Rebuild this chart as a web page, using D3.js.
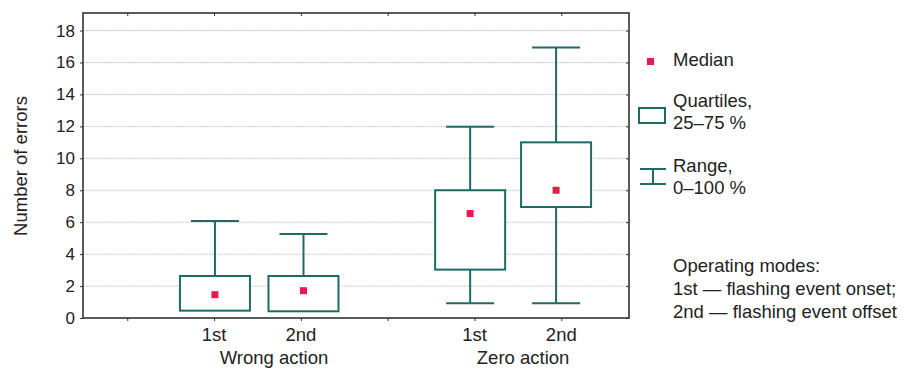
<!DOCTYPE html>
<html>
<head>
<meta charset="utf-8">
<script src="https://cdn.jsdelivr.net/npm/d3@7"></script>
<style>
  body { margin: 0; background: #fff; }
  text { font-family: "Liberation Sans", Arial, Helvetica, sans-serif; fill: #222; }
</style>
</head>
<body>
<div id="chart"></div>
<script>
// box plot values
const slots = ["1st", "2nd", "1st", "2nd"];
const slotPos = [2, 3, 5, 6];
const boxPos = [2.01, 3.03, 4.95, 5.94];
const groups = ["Wrong action", "Zero action"];
const groupPos = [2.69, 5.56];
const mins = [0.46, 0.42, 0.92, 0.92];
const q1s = [0.46, 0.42, 3.03, 6.95];
const medians = [1.46, 1.71, 6.54, 8.0];
const q3s = [2.63, 2.63, 8.0, 11.0];
const maxs = [6.08, 5.26, 11.97, 16.94];
const yTicks = [0, 2, 4, 6, 8, 10, 12, 14, 16, 18];
const xTicks = [1, 2, 3, 4, 5, 6];
const notes = ["Operating modes:", "1st \u2014 flashing event onset;", "2nd \u2014 flashing event offset"];

const teal = "#1d6a66", red = "#e8194b", frame = "#333";
const W = 904, H = 369;
const pLeft = 83, pRight = 629, pTop = 13, pBottom = 318;
const fs = "18.5px";

const svg = d3.select("#chart").append("svg")
  .attr("width", W).attr("height", H);

const x = d3.scaleLinear().domain([0.49, 6.78]).range([pLeft, pRight]);
const y = d3.scaleLinear().domain([0, 19.1]).range([pBottom, pTop]);

// grid
svg.append("g").selectAll("line")
  .data(yTicks.filter(d => d > 0))
  .enter().append("line")
  .attr("x1", pLeft).attr("x2", pRight)
  .attr("y1", d => y(d)).attr("y2", d => y(d))
  .attr("stroke", "#c8c8c8").attr("stroke-width", 1)
  .attr("stroke-dasharray", "2,1");

// axes
const yAxis = svg.append("g").attr("transform", `translate(${pLeft},0)`)
  .call(d3.axisLeft(y).tickValues(yTicks).tickSize(3).tickPadding(5));
yAxis.select(".domain").remove();
yAxis.selectAll("text").style("font-size", "17px").attr("fill", "#222");
yAxis.selectAll("line").attr("stroke", frame);

svg.append("g").attr("transform", `translate(${pRight},0)`)
  .call(d3.axisLeft(y).tickValues(yTicks).tickSize(3).tickFormat(""))
  .call(g => g.select(".domain").remove())
  .selectAll("line").attr("stroke", frame);

const xAxis = svg.append("g").attr("transform", `translate(0,${pBottom})`)
  .call(d3.axisBottom(x).tickValues(xTicks).tickSize(3).tickFormat(""));
xAxis.select(".domain").remove();
xAxis.selectAll("line").attr("stroke", frame);

svg.append("g").attr("transform", `translate(0,${pTop})`)
  .call(d3.axisBottom(x).tickValues(xTicks).tickSize(3).tickFormat(""))
  .call(g => g.select(".domain").remove())
  .selectAll("line").attr("stroke", frame);

svg.append("rect")
  .attr("x", pLeft).attr("y", pTop)
  .attr("width", pRight - pLeft).attr("height", pBottom - pTop)
  .attr("fill", "none").attr("stroke", frame).attr("stroke-width", 1.6);

// category labels
svg.append("g").selectAll("text")
  .data(slots).enter().append("text")
  .attr("x", (d, i) => x(slotPos[i])).attr("y", 341)
  .attr("text-anchor", "middle").style("font-size", fs)
  .text(d => d);

svg.append("g").selectAll("text")
  .data(groups).enter().append("text")
  .attr("x", (d, i) => x(groupPos[i])).attr("y", 364)
  .attr("text-anchor", "middle").style("font-size", fs)
  .text(d => d);

svg.append("text")
  .attr("transform", "translate(27,166) rotate(-90)")
  .attr("text-anchor", "middle").style("font-size", fs)
  .text("Number of errors");

// boxes
const boxW = 70, capW = 48, medS = 7;
const bx = svg.append("g");
boxPos.forEach((p, i) => {
  const cx = x(p);
  const g = bx.append("g").attr("stroke", teal).attr("stroke-width", 2).attr("fill", "none");
  g.append("line").attr("x1", cx).attr("x2", cx).attr("y1", y(maxs[i])).attr("y2", y(q3s[i]));
  g.append("line").attr("x1", cx).attr("x2", cx).attr("y1", y(q1s[i])).attr("y2", y(mins[i]));
  g.append("line").attr("x1", cx - capW / 2).attr("x2", cx + capW / 2).attr("y1", y(maxs[i])).attr("y2", y(maxs[i]));
  if (mins[i] < q1s[i])
    g.append("line").attr("x1", cx - capW / 2).attr("x2", cx + capW / 2).attr("y1", y(mins[i])).attr("y2", y(mins[i]));
  g.append("rect").attr("x", cx - boxW / 2).attr("width", boxW)
    .attr("y", y(q3s[i])).attr("height", y(q1s[i]) - y(q3s[i]))
    .attr("fill", "#fff");
  bx.append("rect").attr("x", cx - medS / 2).attr("y", y(medians[i]) - medS / 2)
    .attr("width", medS).attr("height", medS).attr("fill", red);
});

// legend
const lg = svg.append("g");
lg.append("rect").attr("x", 647).attr("y", 58).attr("width", 7).attr("height", 7).attr("fill", red);
lg.append("text").attr("x", 673).attr("y", 66).style("font-size", fs).text("Median");

lg.append("rect").attr("x", 639).attr("y", 108).attr("width", 26).attr("height", 15)
  .attr("fill", "#fff").attr("stroke", teal).attr("stroke-width", 2);
lg.append("text").attr("x", 673).attr("y", 107).style("font-size", fs).text("Quartiles,");
lg.append("text").attr("x", 673).attr("y", 129).style("font-size", fs).text("25\u201375 %");

const rg = lg.append("g").attr("stroke", teal).attr("stroke-width", 2);
rg.append("line").attr("x1", 640).attr("x2", 666).attr("y1", 169).attr("y2", 169);
rg.append("line").attr("x1", 640).attr("x2", 666).attr("y1", 184).attr("y2", 184);
rg.append("line").attr("x1", 653).attr("x2", 653).attr("y1", 169).attr("y2", 184);
lg.append("text").attr("x", 673).attr("y", 172).style("font-size", fs).text("Range,");
lg.append("text").attr("x", 673).attr("y", 194).style("font-size", fs).text("0\u2013100 %");

lg.selectAll(".note").data(notes).enter().append("text")
  .attr("class", "note")
  .attr("x", 673).attr("y", (d, i) => 272 + i * 23)
  .style("font-size", fs).text(d => d);
</script>
</body>
</html>
